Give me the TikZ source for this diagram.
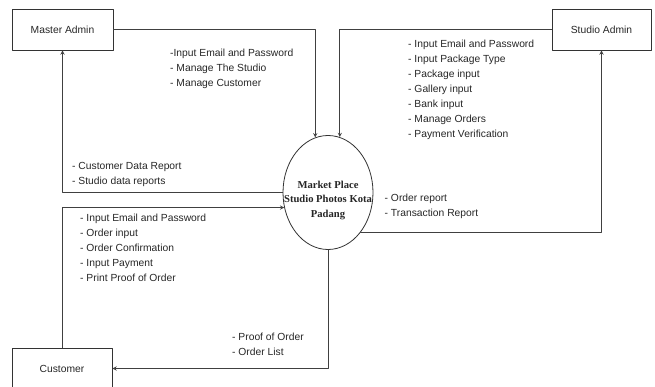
\documentclass[tikz,border=0pt]{standalone}
\usepackage{fontspec}
\setmainfont{Liberation Sans}
\newfontfamily\procfont{Liberation Serif}
\usetikzlibrary{shapes.geometric}

\begin{document}
\begin{tikzpicture}[
		x=1pt,y=-1pt,
		>=stealth,
		line cap=round,
		line join=round,
		every node/.style={font=\fontsize{10.3}{15}\selectfont,text=black!85},
		entity/.style={draw=black!80,line width=0.9pt,minimum height=41pt,inner sep=0pt},
		process/.style={draw=black!80,line width=0.8pt,ellipse,minimum width=90pt,minimum height=114pt,inner sep=0pt},
		flow/.style={->,draw=black!75,line width=0.9pt},
		flowtext/.style={anchor=base west,align=left,inner sep=0pt}
		]
		\useasboundingbox (0,0) rectangle (655,387);
		% entities and process
		\node[entity,minimum width=101pt] (master) at (62.5,29.5) {Master Admin};
		\node[entity,minimum width=99pt] (studio) at (601.5,29.5) {Studio Admin};
		\node[entity,minimum width=100pt] (customer) at (62,368.5) {Customer};
		\node[process] (market) at (328,192.5) {};
		\node[align=center,font=\procfont\bfseries\fontsize{10.6}{14.5}\selectfont] (markettext) at (328,200) {Market Place\\Studio Photos Kota\\Padang};
		% data flows
		\draw[flow] (master.east) -| (market.103);
		\draw[flow] (studio.west) -| (market.78);
		\draw[flow] (market.west) -| (master.south);
		\draw[flow] (customer.north) |- (market.199);
		\draw[flow] (market.south) |- (customer.east);
		\draw[flow] (market.309) -| (studio.south);
		% flow labels (placed at the baseline of their last line)
		\node[flowtext] (masterin) at (170,86.5) {-Input Email and Password\\- Manage The Studio\\- Manage Customer};
		\node[flowtext] (studioin) at (408,137.5) {- Input Email and Password\\- Input Package Type\\- Package input\\- Gallery input\\- Bank input\\- Manage Orders\\- Payment Verification};
		\node[flowtext] (masterout) at (72,185) {- Customer Data Report\\- Studio data reports};
		\node[flowtext] (customerin) at (80,281.7) {- Input Email and Password\\- Order input\\- Order Confirmation\\- Input Payment\\- Print Proof of Order};
		\node[flowtext] (customerout) at (232,355) {- Proof of Order\\- Order List};
		\node[flowtext] (studioout) at (384.5,217) {- Order report\\- Transaction Report};
		\end{tikzpicture}
\end{document}
